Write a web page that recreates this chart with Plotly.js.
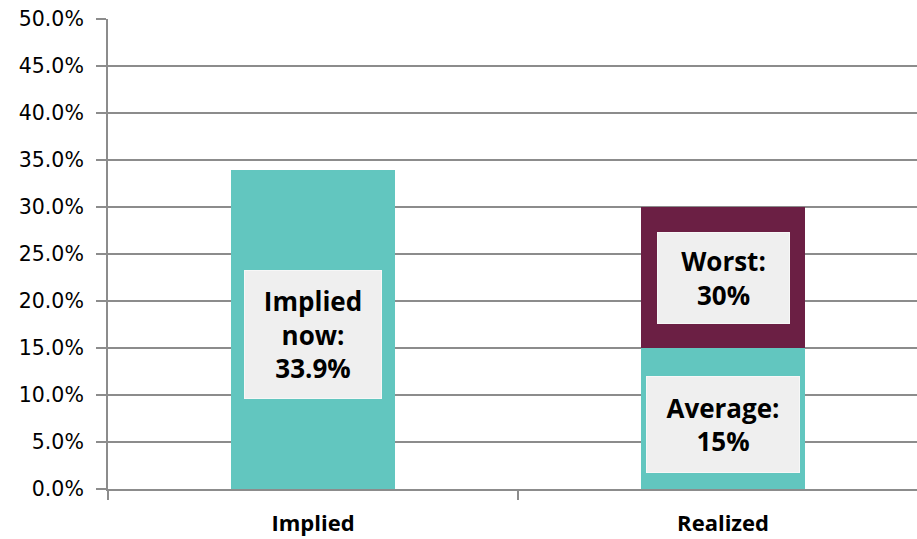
<!DOCTYPE html>
<html>
<head>
<meta charset="utf-8">
<script src="https://cdn.plot.ly/plotly-3.0.1.min.js"></script>
<style>
  html, body { margin: 0; padding: 0; background: #ffffff; }
  #chart { width: 917px; height: 539px; }
</style>
</head>
<body>
<div id="chart"></div>
<script>
// Volatility: implied now vs. realized (average and worst case)
const categories = ["Implied", "Realized"];
const baseValues = [0.339, 0.15];     // teal segment
const worstExtra = [null, 0.15];      // maroon segment stacked on top (worst = 30%)
const impliedNow = 0.339;
const realizedAverage = 0.15;
const realizedWorst = 0.30;
const yTicks = [0, 0.05, 0.10, 0.15, 0.20, 0.25, 0.30, 0.35, 0.40, 0.45, 0.50];

const TEAL = "#62C6BF";
const MAROON = "#6B1F44";
const GRID = "#8C8C8C";
const BOX = "#EFEFEF";
const pct = v => (v * 100).toFixed(v * 100 % 1 === 0 ? 0 : 1) + "%";

const traces = [
  {
    type: "bar", x: categories, y: baseValues, width: 0.4,
    marker: { color: TEAL }, hoverinfo: "skip", showlegend: false
  },
  {
    type: "bar", x: categories, y: worstExtra, width: 0.4,
    marker: { color: MAROON }, hoverinfo: "skip", showlegend: false
  }
];

const labelFont = { family: "'Open Sans', sans-serif", size: 26, color: "#000000", weight: 700 };
const box = (x, y, text, w, h) => ({
  xref: "x", yref: "y", x: x, y: y, text: text, showarrow: false,
  bgcolor: BOX, bordercolor: "#F7F7F7", borderwidth: 1, borderpad: 0,
  width: w, height: h, align: "center", valign: "middle", font: labelFont
});

const annotations = [
  box(categories[0], impliedNow * 0.484, "Implied<br>now:<br>" + pct(impliedNow), 136, 127),
  box(categories[1], realizedWorst * 0.747, "Worst:<br>" + pct(realizedWorst), 131, 90),
  box(categories[1], realizedAverage * 0.46, "Average:<br>" + pct(realizedAverage), 152, 95)
];

const layout = {
  width: 917, height: 539,
  margin: { l: 108, r: 0, t: 19, b: 50, pad: 0 },
  paper_bgcolor: "#ffffff", plot_bgcolor: "#ffffff",
  barmode: "stack",
  showlegend: false,
  xaxis: {
    type: "category", range: [-0.5, 1.473],
    tickson: "boundaries", ticks: "outside", ticklen: 9, tickwidth: 2, tickcolor: GRID,
    showline: true, linecolor: GRID, linewidth: 2,
    showgrid: false, zeroline: false,
    tickfont: { family: "'Open Sans', sans-serif", size: 22, color: "#000000", weight: 700 },
    ticklabelstandoff: 14
  },
  yaxis: {
    range: [0, 0.5], tickvals: yTicks, tickformat: ".1%",
    ticks: "outside", ticklen: 10, tickwidth: 2, tickcolor: GRID,
    showgrid: true, gridcolor: GRID, gridwidth: 2,
    showline: true, linecolor: GRID, linewidth: 2,
    zeroline: false,
    tickfont: { family: "'DejaVu Sans', sans-serif", size: 20.5, color: "#000000" },
    ticklabelstandoff: 8
  },
  annotations: annotations
};

Plotly.newPlot("chart", traces, layout, { displayModeBar: false, staticPlot: true });
</script>
</body>
</html>
